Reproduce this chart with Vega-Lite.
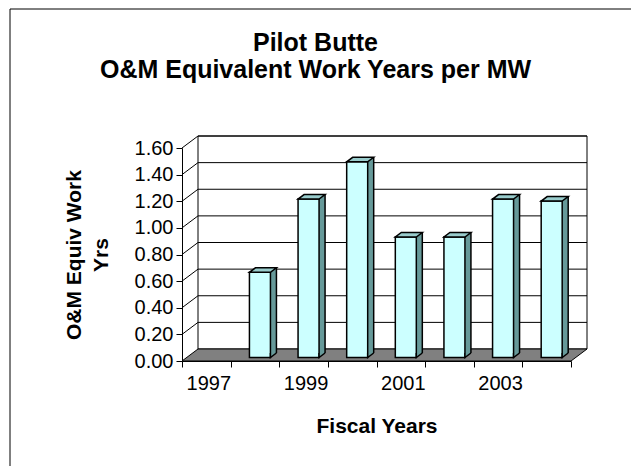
{
  "$schema": "https://vega.github.io/schema/vega-lite/v6.json",
  "width": 389,
  "height": 213,
  "autosize": "none",
  "padding": {"left": 182, "top": 148, "right": 60, "bottom": 105},
  "background": "white",
  "title": {
    "text": ["Pilot Butte", "O&M Equivalent Work Years per MW"],
    "font": "Liberation Sans", "fontSize": 25, "fontWeight": "bold", "color": "black",
    "lineHeight": 27, "anchor": "middle", "frame": "group", "dx": -61, "offset": -74
  },
  "config": {"view": {"stroke": null}, "axis": {"labelOverlap": false}},
  "datasets": {
    "work": [
      {"year": 1998, "value": 0.64},
      {"year": 1999, "value": 1.19},
      {"year": 2000, "value": 1.47},
      {"year": 2001, "value": 0.905},
      {"year": 2002, "value": 0.905},
      {"year": 2003, "value": 1.19},
      {"year": 2004, "value": 1.175}
    ],
    "grid": [{"v": 0.2}, {"v": 0.4}, {"v": 0.6}, {"v": 0.8}, {"v": 1.0}, {"v": 1.2}, {"v": 1.4}, {"v": 1.6}],
    "one": [{}]
  },
  "layer": [
    {
      "data": {"name": "one"},
      "mark": {"type": "rect", "fill": "white", "fillOpacity": 0, "stroke": "black", "strokeWidth": 1, "xOffset": -172, "x2Offset": 100, "yOffset": -139, "y2Offset": 130, "clip": false},
      "encoding": {
        "x": {"datum": 1997, "type": "ordinal", "bandPosition": 0},
        "x2": {"datum": 2004, "bandPosition": 1},
        "y": {"datum": 1.6, "type": "quantitative"},
        "y2": {"datum": 0}
      }
    },
    {
      "data": {"name": "one"},
      "mark": {"type": "rect", "fill": "white", "stroke": "black", "strokeWidth": 1, "xOffset": 16, "x2Offset": 16, "yOffset": -12, "y2Offset": -12},
      "encoding": {
        "x": {"datum": 1997, "type": "ordinal", "bandPosition": 0},
        "x2": {"datum": 2004, "bandPosition": 1},
        "y": {"datum": 1.6, "type": "quantitative"},
        "y2": {"datum": 0}
      }
    },
    {
      "data": {"name": "grid"},
      "mark": {"type": "rule", "stroke": "black", "strokeWidth": 1, "xOffset": 16, "x2Offset": 16, "yOffset": -12},
      "encoding": {
        "x": {"datum": 1997, "type": "ordinal", "bandPosition": 0},
        "x2": {"datum": 2004, "bandPosition": 1},
        "y": {"field": "v", "type": "quantitative", "title": ["O&M Equiv Work", "Yrs"]}
      }
    },
    {
      "data": {"name": "grid"},
      "mark": {"type": "rule", "stroke": "black", "strokeWidth": 1, "x2Offset": 16, "y2Offset": -12},
      "encoding": {
        "x": {"datum": 1997, "type": "ordinal", "bandPosition": 0},
        "x2": {"datum": 1997, "bandPosition": 0},
        "y": {"field": "v", "type": "quantitative", "title": ["O&M Equiv Work", "Yrs"]},
        "y2": {"field": "v"}
      }
    },
    {
      "data": {"name": "one"},
      "mark": {"type": "point", "shape": "M -0.9725 0 L 0.9725 0 L 1.0525 -0.06 L -0.8925 -0.06 Z", "size": 160000, "filled": true, "fill": "#808080", "stroke": "black", "strokeWidth": 1, "opacity": 1},
      "encoding": {
        "x": {"datum": 2001, "type": "ordinal", "bandPosition": 0},
        "y": {"datum": 0, "type": "quantitative"}
      }
    },
    {
      "data": {"name": "work"},
      "mark": {"type": "bar", "size": 6, "fill": "#669999", "opacity": 1, "xOffset": 18.5, "yOffset": -8, "y2Offset": -8},
      "encoding": {
        "x": {"field": "year", "type": "ordinal"},
        "y": {"field": "value", "type": "quantitative", "title": ["O&M Equiv Work", "Yrs"]},
        "y2": {"datum": 0}
      }
    },
    {
      "data": {"name": "work"},
      "mark": {"type": "rule", "stroke": "black", "strokeWidth": 1.5, "xOffset": 21.5, "yOffset": -8, "y2Offset": -8},
      "encoding": {
        "x": {"field": "year", "type": "ordinal"},
        "y": {"field": "value", "type": "quantitative", "title": ["O&M Equiv Work", "Yrs"]},
        "y2": {"datum": 0}
      }
    },
    {
      "data": {"name": "work"},
      "mark": {"type": "bar", "size": 21, "fill": "#CCFFFF", "stroke": "black", "strokeWidth": 1.5, "strokeJoin": "miter", "opacity": 1, "xOffset": 5, "yOffset": -3.5, "y2Offset": -3.5},
      "encoding": {
        "x": {
          "field": "year", "type": "ordinal",
          "scale": {"domain": [1997, 1998, 1999, 2000, 2001, 2002, 2003, 2004], "paddingInner": 0, "paddingOuter": 0},
          "axis": {
            "title": "Fiscal Years", "titleFont": "Liberation Sans", "titleFontSize": 21, "titleFontWeight": "bold", "titleColor": "black", "titlePadding": 22,
            "labelFont": "Liberation Sans", "labelFontSize": 20, "labelColor": "black", "labelAngle": 0, "labelPadding": 16, "labelOverlap": false, "labelOffset": 24.3,
            "labelExpr": "datum.value % 2 == 1 ? datum.label : ''",
            "tickBand": "extent", "tickSize": 6, "tickColor": "black", "domainColor": "black", "grid": false
          }
        },
        "y": {
          "field": "value", "type": "quantitative", "title": ["O&M Equiv Work", "Yrs"],
          "scale": {"domain": [0, 1.6], "nice": false},
          "axis": {
            "values": [0, 0.2, 0.4, 0.6, 0.8, 1.0, 1.2, 1.4, 1.6], "tickCount": 20, "format": ".2f",
            "titleFont": "Liberation Sans", "titleFontSize": 21, "titleFontWeight": "bold", "titleColor": "black", "titlePadding": 23, "titleLineHeight": 26.5,
            "labelFont": "Liberation Sans", "labelFontSize": 20, "labelColor": "black", "labelPadding": 3, "labelOverlap": false,
            "tickSize": 6, "tickColor": "black", "domainColor": "black", "grid": false
          }
        },
        "y2": {"datum": 0}
      }
    },
    {
      "data": {"name": "work"},
      "mark": {"type": "point", "shape": "M -0.525 0 L 0.525 0 L 0.825 -0.225 L -0.225 -0.225 Z", "size": 1600, "filled": true, "fill": "#99CCCC", "stroke": "black", "strokeWidth": 1.5, "opacity": 1, "xOffset": 5, "yOffset": -3.5},
      "encoding": {
        "x": {"field": "year", "type": "ordinal"},
        "y": {"field": "value", "type": "quantitative", "title": ["O&M Equiv Work", "Yrs"]}
      }
    },
    {
      "data": {"name": "work"},
      "mark": {"type": "point", "shape": "M 0.825 -0.225 L 0.525 0 L 0.525 -0.225", "size": 1600, "filled": true, "fill": "#669999", "stroke": "black", "strokeWidth": 1.5, "opacity": 1, "xOffset": 5, "yOffset": -3.5},
      "encoding": {
        "x": {"field": "year", "type": "ordinal"},
        "y": {"datum": 0, "type": "quantitative"}
      }
    }
  ]
}
